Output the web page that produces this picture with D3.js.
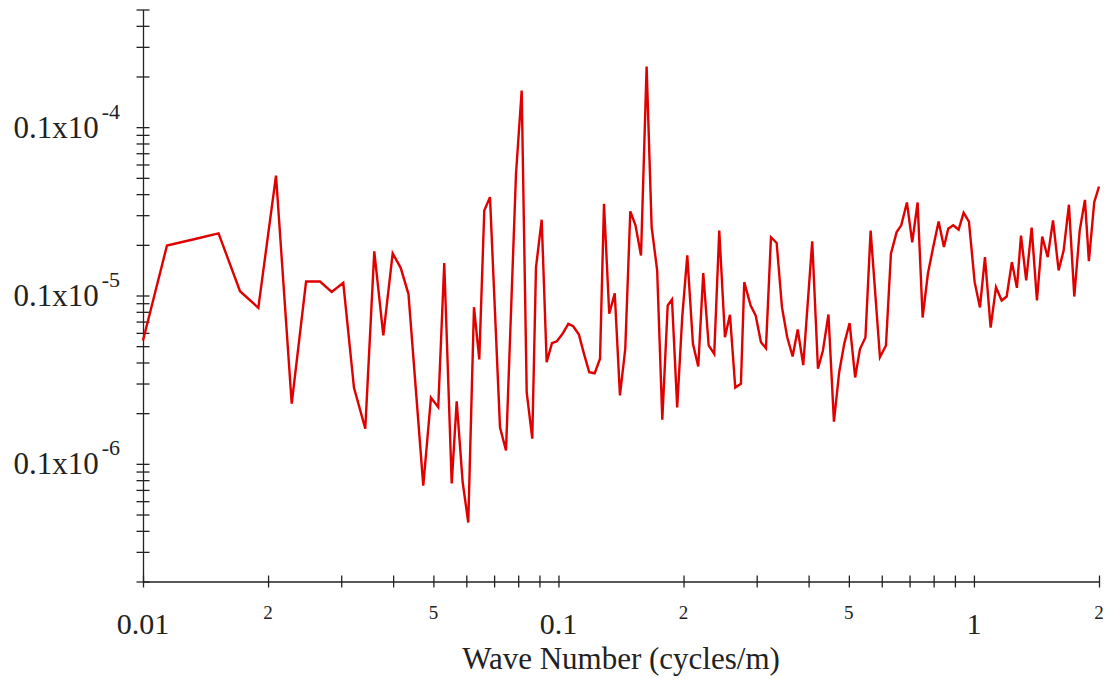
<!DOCTYPE html>
<html>
<head>
<meta charset="utf-8">
<script src="https://cdn.jsdelivr.net/npm/d3@7"></script>
<style>
  html, body { margin: 0; padding: 0; background: #ffffff; }
  svg { display: block; }
  text { font-family: "Liberation Serif", "Times New Roman", serif; fill: #222; }
</style>
</head>
<body>
<svg id="chart" width="1108" height="683"></svg>
<script>
// Wave number (cycles/m) of each spectral estimate
const waveNumber = [
  0.0100, 0.01142, 0.01319, 0.01520, 0.01712, 0.01895, 0.02090, 0.02280, 0.02469, 0.02667,
  0.02846, 0.03034, 0.03220, 0.03428, 0.03603, 0.03788, 0.03990, 0.04171, 0.04355, 0.04727,
  0.04933, 0.05136, 0.05310, 0.05534, 0.05689, 0.05881, 0.06066, 0.06261, 0.06448, 0.06629,
  0.06842, 0.07232, 0.07477, 0.07903, 0.08156, 0.08386, 0.08649, 0.08829, 0.09112, 0.09367,
  0.09646, 0.09901, 0.1023, 0.1056, 0.1085, 0.1120, 0.1152, 0.1186, 0.1222, 0.1259,
  0.1287, 0.1325, 0.1366, 0.1406, 0.1448, 0.1489, 0.1532, 0.1580, 0.1630, 0.1676,
  0.1728, 0.1778, 0.1832, 0.1876, 0.1931, 0.1986, 0.2042, 0.2107, 0.2170, 0.2231,
  0.2299, 0.2371, 0.2438, 0.2516, 0.2587, 0.2664, 0.2749, 0.2800, 0.2901, 0.2983,
  0.3072, 0.3158, 0.3247, 0.3351, 0.3451, 0.3553, 0.3661, 0.3766, 0.3883, 0.4081,
  0.4213, 0.4331, 0.4465, 0.4603, 0.4738, 0.4873, 0.5021, 0.5177, 0.5317, 0.5481,
  0.5641, 0.5940, 0.6141, 0.6313, 0.6516, 0.6684, 0.6898, 0.7104, 0.7319, 0.7525,
  0.7749, 0.7980, 0.8223, 0.8468, 0.8672, 0.8916, 0.9187, 0.9445, 0.9727, 1.004,
  1.034, 1.063, 1.097, 1.130, 1.166, 1.199, 1.234, 1.269, 1.298, 1.336,
  1.377, 1.418, 1.460, 1.505, 1.550, 1.599, 1.644, 1.693, 1.744, 1.797,
  1.850, 1.891, 1.948, 2.000
];

// Spectral density at each wave number
const psd = [
  5.40e-7, 1.98e-6, 2.15e-6, 2.34e-6, 1.06e-6, 8.45e-7, 5.16e-6, 2.28e-7, 1.21e-6, 1.21e-6,
  1.05e-6, 1.19e-6, 2.83e-7, 1.62e-7, 1.83e-6, 5.79e-7, 1.78e-6, 1.46e-6, 1.02e-6, 7.43e-8,
  2.47e-7, 2.17e-7, 1.56e-6, 7.64e-8, 2.35e-7, 7.77e-8, 4.48e-8, 8.52e-7, 4.17e-7, 3.20e-6,
  3.84e-6, 1.65e-7, 1.20e-7, 5.29e-6, 1.65e-5, 2.66e-7, 1.41e-7, 1.47e-6, 2.82e-6, 4.02e-7,
  5.21e-7, 5.33e-7, 5.92e-7, 6.79e-7, 6.57e-7, 5.86e-7, 4.50e-7, 3.50e-7, 3.45e-7, 4.21e-7,
  3.51e-6, 7.79e-7, 1.03e-6, 2.55e-7, 4.82e-7, 3.16e-6, 2.62e-6, 1.73e-6, 2.29e-5, 2.55e-6,
  1.41e-6, 1.83e-7, 8.72e-7, 9.47e-7, 2.16e-7, 7.50e-7, 1.73e-6, 5.16e-7, 3.79e-7, 1.36e-6,
  5.05e-7, 4.50e-7, 2.43e-6, 5.65e-7, 7.68e-7, 2.84e-7, 2.99e-7, 1.20e-6, 8.72e-7, 7.61e-7,
  5.28e-7, 4.86e-7, 2.22e-6, 2.05e-6, 8.52e-7, 5.65e-7, 4.34e-7, 6.28e-7, 3.86e-7, 2.10e-6,
  3.67e-7, 4.71e-7, 7.71e-7, 1.78e-7, 3.49e-7, 5.16e-7, 6.86e-7, 3.26e-7, 4.81e-7, 5.63e-7,
  2.43e-6, 4.30e-7, 5.05e-7, 1.77e-6, 2.38e-6, 2.61e-6, 3.57e-6, 2.07e-6, 3.57e-6, 7.40e-7,
  1.35e-6, 1.94e-6, 2.75e-6, 1.94e-6, 2.49e-6, 2.61e-6, 2.46e-6, 3.10e-6, 2.75e-6, 1.20e-6,
  8.49e-7, 1.69e-6, 6.45e-7, 1.12e-6, 9.34e-7, 9.86e-7, 1.58e-6, 1.11e-6, 2.27e-6, 1.23e-6,
  2.53e-6, 9.34e-7, 2.24e-6, 1.69e-6, 2.79e-6, 1.41e-6, 1.85e-6, 3.46e-6, 9.86e-7, 2.43e-6,
  3.70e-6, 1.60e-6, 3.58e-6, 4.44e-6
];

// Axis labelling
const xDomain = [0.01, 2];
const yDomain = [2e-8, 5e-5];
const xMajorTicks = [0.01, 0.1, 1];
const xMajorLabels = ["0.01", "0.1", "1"];
const xMinorTicks = [0.02, 0.05, 0.2, 0.5, 2];
const xMinorLabels = ["2", "5", "2", "5", "2"];
const yMajorTicks = [1e-7, 1e-6, 1e-5];
const yMantissaLabels = ["0.1x10", "0.1x10", "0.1x10"];
const yExponentLabels = ["-6", "-5", "-4"];
const xTitle = "Wave Number (cycles/m)";

const svg = d3.select("#chart");
const axisColor = "#222";

const x = d3.scaleLog().domain(xDomain).range([143, 1099]);
const y = d3.scaleLog().domain(yDomain).range([581.5, 9.5]);
const x0 = x.range()[0];
const yBase = y.range()[0];

// Bottom axis: ticks cross the line
const gx = svg.append("g")
  .attr("transform", `translate(0,${yBase})`)
  .call(d3.axisBottom(x).tickValues(x.ticks()).tickFormat("").tickSizeOuter(0));
gx.selectAll(".tick line").attr("y1", -6).attr("y2", 6);

// Left axis
const gy = svg.append("g")
  .attr("transform", `translate(${x0},0)`)
  .call(d3.axisLeft(y).tickValues(y.ticks()).tickFormat("").tickSizeOuter(0));
gy.selectAll(".tick line").attr("x1", -6.5).attr("x2", 6.5);

[gx, gy].forEach(g => {
  g.selectAll("path.domain").attr("stroke", axisColor).attr("stroke-width", 1.3);
  g.selectAll(".tick line").attr("stroke", axisColor).attr("stroke-width", 1.3);
});

// Spectrum trace
const pts = waveNumber.map((k, i) => [k, psd[i]]);
svg.append("path")
  .datum(pts)
  .attr("fill", "none")
  .attr("stroke", "#e00000")
  .attr("stroke-width", 2.4)
  .attr("stroke-linejoin", "miter")
  .attr("d", d3.line().x(d => x(d[0])).y(d => y(d[1])));

// X tick labels
svg.selectAll("text.xmaj").data(xMajorTicks).join("text")
  .attr("class", "xmaj")
  .attr("x", d => x(d))
  .attr("y", 634)
  .attr("text-anchor", "middle")
  .attr("font-size", 30)
  .text((d, i) => xMajorLabels[i]);

svg.selectAll("text.xmin").data(xMinorTicks).join("text")
  .attr("class", "xmin")
  .attr("x", d => x(d))
  .attr("y", 619)
  .attr("text-anchor", "middle")
  .attr("font-size", 19)
  .text((d, i) => xMinorLabels[i]);

// Y tick labels with raised exponent
const yl = svg.selectAll("text.ylab").data(yMajorTicks).join("text")
  .attr("class", "ylab")
  .attr("x", 120)
  .attr("y", d => y(d) + 10.5)
  .attr("text-anchor", "end")
  .attr("font-size", 31);
yl.append("tspan").text((d, i) => yMantissaLabels[i]);
yl.append("tspan")
  .attr("dx", 3)
  .attr("dy", -19)
  .attr("font-size", 22)
  .text((d, i) => yExponentLabels[i]);

// Axis title
svg.append("text")
  .attr("x", (x.range()[0] + x.range()[1]) / 2)
  .attr("y", 669)
  .attr("text-anchor", "middle")
  .attr("font-size", 31)
  .text(xTitle);
</script>
</body>
</html>
